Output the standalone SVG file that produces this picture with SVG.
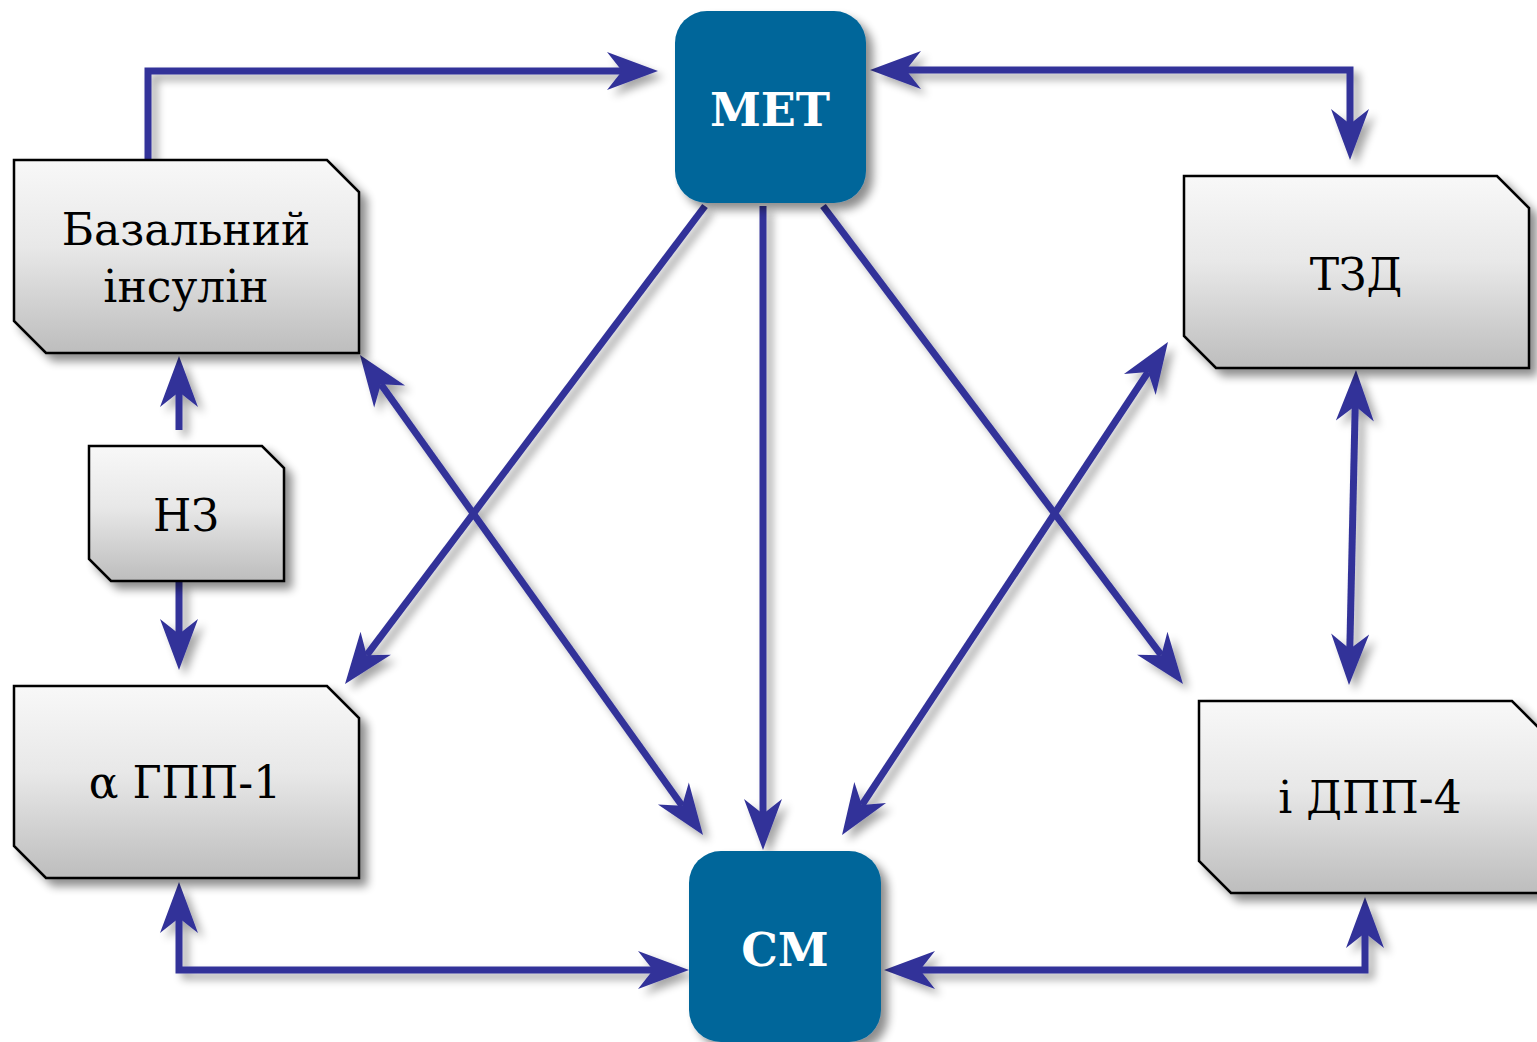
<svg xmlns="http://www.w3.org/2000/svg" width="1537" height="1042" viewBox="0 0 1537 1042">
<style>
.box{fill:url(#g);stroke:#000;stroke-width:2.5;filter:url(#sh)}
.rb{fill:#02669a;filter:url(#sh)}
.t{font-family:"DejaVu Serif","Liberation Serif",serif;font-size:44px;fill:#000;text-anchor:middle}
.w{font-family:"DejaVu Serif","Liberation Serif",serif;font-size:46px;font-weight:bold;fill:#fff;text-anchor:middle}
.c{fill:none;stroke:#333399;stroke-width:7}
</style>
<defs>
<linearGradient id="g" x1="0" y1="0" x2="0" y2="1">
<stop offset="0" stop-color="#f8f8f8"/>
<stop offset="0.45" stop-color="#e8e8e8"/>
<stop offset="1" stop-color="#bdbdbd"/>
</linearGradient>
<filter id="sh" x="-20%" y="-20%" width="150%" height="150%">
<feGaussianBlur in="SourceAlpha" stdDeviation="5"/>
<feOffset dx="7" dy="7" result="b"/>
<feComponentTransfer><feFuncA type="linear" slope="0.45"/></feComponentTransfer>
<feMerge><feMergeNode/><feMergeNode in="SourceGraphic"/></feMerge>
</filter>
<filter id="ash" x="-20%" y="-20%" width="150%" height="150%">
<feGaussianBlur in="SourceAlpha" stdDeviation="4"/>
<feOffset dx="6" dy="6" result="b"/>
<feComponentTransfer><feFuncA type="linear" slope="0.35"/></feComponentTransfer>
<feMerge><feMergeNode/><feMergeNode in="SourceGraphic"/></feMerge>
</filter>
<marker id="ah" viewBox="-16 -20 56 40" markerWidth="56" markerHeight="40" refX="0" refY="0" markerUnits="userSpaceOnUse" orient="auto-start-reverse">
<path d="M36,0 L-15,-19 L0,0 L-15,19 Z" fill="#333399"/>
</marker>
</defs>

<g id="connectors" filter="url(#ash)">
<path class="c" d="M148,160 V71 H622" marker-end="url(#ah)"/>
<path class="c" d="M906,70 H1350 V124" marker-start="url(#ah)" marker-end="url(#ah)"/>
<path class="c" d="M705,206 L366.7,655.2" marker-end="url(#ah)"/>
<path class="c" d="M763,206 V814" marker-end="url(#ah)"/>
<path class="c" d="M823,206 L1161.3,655.2" marker-end="url(#ah)"/>
<path class="c" d="M380.9,384.3 L682.1,805.7" marker-start="url(#ah)" marker-end="url(#ah)"/>
<path class="c" d="M1148.1,372 L861.9,805" marker-start="url(#ah)" marker-end="url(#ah)"/>
<path class="c" d="M179,430 V392" marker-end="url(#ah)"/>
<path class="c" d="M179,582 V634" marker-end="url(#ah)"/>
<path class="c" d="M1355.2,406 L1349.8,649" marker-start="url(#ah)" marker-end="url(#ah)"/>
<path class="c" d="M179,918 V970 H653" marker-start="url(#ah)" marker-end="url(#ah)"/>
<path class="c" d="M920,970 H1365 V933" marker-start="url(#ah)" marker-end="url(#ah)"/>
</g>

<g id="met">
<rect class="rb" x="675" y="11" width="191" height="192" rx="32"/>
<text class="w" x="770" y="126">МЕТ</text>
</g>
<g id="sm">
<rect class="rb" x="689" y="851" width="192" height="191" rx="32"/>
<text class="w" x="785" y="966">СМ</text>
</g>
<g id="bazal">
<path class="box" d="M14,160 H327 L359,192 V353 H46 L14,321 Z"/>
<text class="t" x="186" y="245">Базальний</text>
<text class="t" x="186" y="302">інсулін</text>
</g>
<g id="nz">
<path class="box" d="M89,446 H262 L284,468 V581 H111 L89,559 Z"/>
<text class="t" x="186" y="531">НЗ</text>
</g>
<g id="gpp1">
<path class="box" d="M14,686 H327 L359,718 V878 H46 L14,846 Z"/>
<text class="t" x="185" y="798">α ГПП-1</text>
</g>
<g id="tzd">
<path class="box" d="M1184,176 H1497 L1529,208 V368 H1216 L1184,336 Z"/>
<text class="t" x="1356" y="290">ТЗД</text>
</g>
<g id="dpp4">
<path class="box" d="M1199,701 H1512 L1544,733 V893 H1231 L1199,861 Z"/>
<text class="t" x="1370" y="813">і ДПП-4</text>
</g>
</svg>
